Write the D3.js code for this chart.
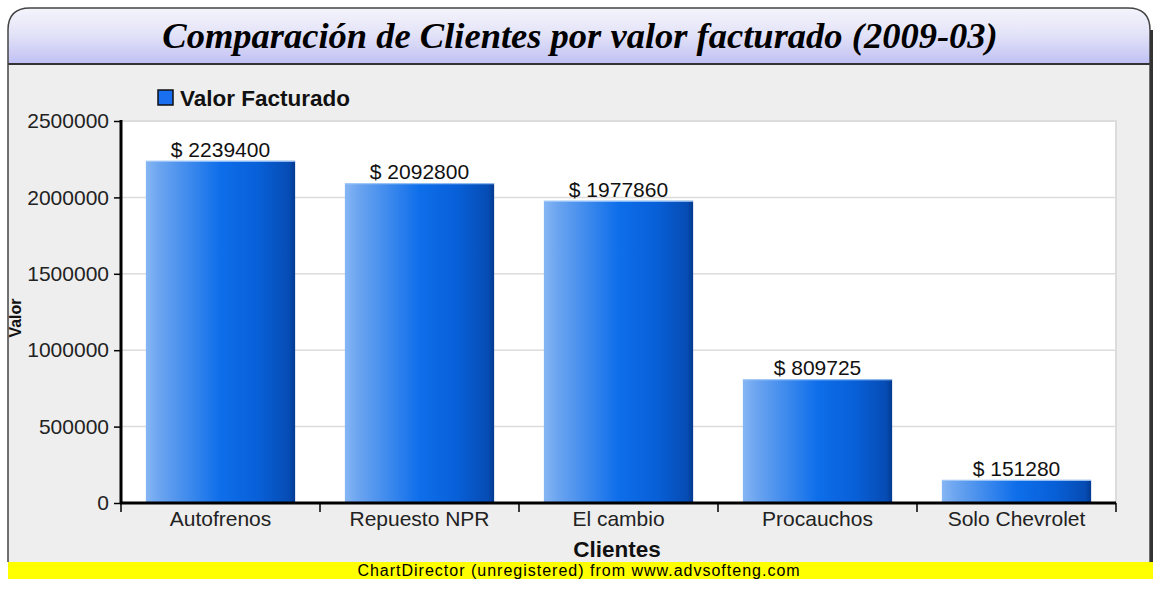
<!DOCTYPE html>
<html>
<head>
<meta charset="utf-8">
<script src="https://cdn.jsdelivr.net/npm/d3@7"></script>
<style>
  body { margin: 0; background: #fff; }
  text { font-family: "Liberation Sans", Arial, sans-serif; }
</style>
</head>
<body>
<div id="chart"></div>
<script>
// data
var clientes = ["Autofrenos", "Repuesto NPR", "El cambio", "Procauchos", "Solo Chevrolet"];
var valores = [2239400, 2092800, 1977860, 809725, 151280];
var yTicks = [0, 500000, 1000000, 1500000, 2000000, 2500000];

var W = 1153, H = 596;
var plot = { left: 121, right: 1116, top: 121, bottom: 503 };

var svg = d3.select("#chart").append("svg")
    .attr("width", W)
    .attr("height", H);

var defs = svg.append("defs");

var titleGrad = defs.append("linearGradient")
    .attr("id", "titleGrad")
    .attr("x1", 0).attr("y1", 0).attr("x2", 0).attr("y2", 1);
titleGrad.append("stop").attr("offset", "0%").attr("stop-color", "#f4f4fc");
titleGrad.append("stop").attr("offset", "45%").attr("stop-color", "#e4e4f8");
titleGrad.append("stop").attr("offset", "100%").attr("stop-color", "#c0c0f4");

var barGrad = defs.append("linearGradient")
    .attr("id", "barGrad")
    .attr("x1", 0).attr("y1", 0).attr("x2", 1).attr("y2", 0);
barGrad.append("stop").attr("offset", "0%").attr("stop-color", "#86b6f4");
barGrad.append("stop").attr("offset", "8%").attr("stop-color", "#6ea6f0");
barGrad.append("stop").attr("offset", "50%").attr("stop-color", "#0e6eea");
barGrad.append("stop").attr("offset", "75%").attr("stop-color", "#0860d8");
barGrad.append("stop").attr("offset", "96%").attr("stop-color", "#064cb4");
barGrad.append("stop").attr("offset", "100%").attr("stop-color", "#033a90");

// outer frame with rounded top corners
var fx0 = 8, fx1 = 1150, fy0 = 8, fy1 = 562, r = 22;
var framePath = "M" + fx0 + "," + fy1 + " L" + fx0 + "," + (fy0 + r) +
    " Q" + fx0 + "," + fy0 + " " + (fx0 + r) + "," + fy0 +
    " L" + (fx1 - r) + "," + fy0 +
    " Q" + fx1 + "," + fy0 + " " + fx1 + "," + (fy0 + r) +
    " L" + fx1 + "," + fy1;

svg.append("path")
    .attr("d", framePath + " Z")
    .attr("fill", "#eeeeee");

// title bar
var titlePath = "M" + fx0 + ",64 L" + fx0 + "," + (fy0 + r) +
    " Q" + fx0 + "," + fy0 + " " + (fx0 + r) + "," + fy0 +
    " L" + (fx1 - r) + "," + fy0 +
    " Q" + fx1 + "," + fy0 + " " + fx1 + "," + (fy0 + r) +
    " L" + fx1 + ",64 Z";
svg.append("path")
    .attr("d", titlePath)
    .attr("fill", "url(#titleGrad)");
svg.append("line")
    .attr("x1", fx0).attr("x2", fx1)
    .attr("y1", 64).attr("y2", 64)
    .attr("stroke", "#333")
    .attr("stroke-width", 2);

svg.append("path")
    .attr("d", framePath)
    .attr("fill", "none")
    .attr("stroke", "#444")
    .attr("stroke-width", 1.5);
// right edge shadow
svg.append("line")
    .attr("x1", fx1 + 1.5).attr("x2", fx1 + 1.5)
    .attr("y1", fy0 + r).attr("y2", fy1)
    .attr("stroke", "#333")
    .attr("stroke-width", 3);

svg.append("text")
    .attr("x", 580)
    .attr("y", 48)
    .attr("text-anchor", "middle")
    .style("font-family", "'Liberation Serif', 'Times New Roman', serif")
    .style("font-weight", "bold")
    .style("font-style", "italic")
    .style("font-size", "36.5px")
    .attr("fill", "#000")
    .text("Comparación de Clientes por valor facturado (2009-03)");

// scales
var x = d3.scaleBand()
    .domain(clientes)
    .range([plot.left, plot.right])
    .paddingInner(0.25)
    .paddingOuter(0.125);

var y = d3.scaleLinear()
    .domain([0, 2500000])
    .range([plot.bottom, plot.top]);

// plot background
svg.append("rect")
    .attr("x", plot.left)
    .attr("y", plot.top)
    .attr("width", plot.right - plot.left)
    .attr("height", plot.bottom - plot.top)
    .attr("fill", "#ffffff")
    .attr("stroke", "#dcdcdc")
    .attr("stroke-width", 2);

// grid lines
svg.append("g")
    .selectAll("line")
    .data(yTicks.slice(1))
    .enter().append("line")
    .attr("x1", plot.left)
    .attr("x2", plot.right)
    .attr("y1", function (d) { return y(d); })
    .attr("y2", function (d) { return y(d); })
    .attr("stroke", "#dcdcdc")
    .attr("stroke-width", 1.5);

// bars
var bars = svg.append("g").selectAll("g.bar")
    .data(clientes)
    .enter().append("g")
    .attr("class", "bar");

bars.append("rect")
    .attr("x", function (d) { return x(d); })
    .attr("y", function (d, i) { return y(valores[i]); })
    .attr("width", x.bandwidth())
    .attr("height", function (d, i) { return y(0) - y(valores[i]); })
    .attr("fill", "url(#barGrad)");

bars.append("line")
    .attr("x1", function (d) { return x(d); })
    .attr("x2", function (d) { return x(d) + x.bandwidth(); })
    .attr("y1", function (d, i) { return y(valores[i]) + 0.5; })
    .attr("y2", function (d, i) { return y(valores[i]) + 0.5; })
    .attr("stroke", "#a8ccf8")
    .attr("stroke-width", 1);

bars.append("text")
    .attr("x", function (d) { return x(d) + x.bandwidth() / 2; })
    .attr("y", function (d, i) { return y(valores[i]) - 4; })
    .attr("text-anchor", "middle")
    .style("font-size", "21px")
    .attr("fill", "#111")
    .text(function (d, i) { return "$ " + valores[i]; });

// y axis
var yAxis = svg.append("g")
    .attr("transform", "translate(" + plot.left + ",0)")
    .call(d3.axisLeft(y).tickValues(yTicks).tickSize(7).tickPadding(5).tickFormat(d3.format("d")));
yAxis.select(".domain").attr("stroke", "#000").attr("stroke-width", 3)
    .attr("d", "M0," + (plot.top - 1) + "V" + (plot.bottom + 1));
yAxis.selectAll(".tick line").attr("stroke", "#000").attr("stroke-width", 1.5);
yAxis.selectAll(".tick text")
    .style("font-size", "21px")
    .style("font-family", "'Liberation Sans', Arial, sans-serif")
    .attr("fill", "#222");

// x axis
var xAxis = svg.append("g")
    .attr("transform", "translate(0," + plot.bottom + ")")
    .call(d3.axisBottom(x).tickSize(0).tickPadding(8));
xAxis.select(".domain").attr("stroke", "#000").attr("stroke-width", 3)
    .attr("d", "M" + (plot.left - 1) + ",0H" + plot.right);
xAxis.selectAll(".tick text")
    .style("font-size", "21px")
    .style("font-family", "'Liberation Sans', Arial, sans-serif")
    .attr("fill", "#222");

// category boundary ticks
var bounds = clientes.map(function (d) { return x(d) - x.step() * x.paddingInner() / 2; });
bounds.push(plot.right);
bounds[0] = plot.left;
svg.append("g").selectAll("line")
    .data(bounds)
    .enter().append("line")
    .attr("x1", function (d) { return d; })
    .attr("x2", function (d) { return d; })
    .attr("y1", plot.bottom)
    .attr("y2", plot.bottom + 9)
    .attr("stroke", "#000")
    .attr("stroke-width", 1.5);

// axis titles
svg.append("text")
    .attr("x", 617)
    .attr("y", 557)
    .attr("text-anchor", "middle")
    .style("font-size", "22.5px")
    .style("font-weight", "bold")
    .attr("fill", "#111")
    .text("Clientes");

svg.append("text")
    .attr("transform", "translate(21,318) rotate(-90)")
    .attr("text-anchor", "middle")
    .style("font-size", "16px")
    .style("font-weight", "bold")
    .attr("fill", "#111")
    .text("Valor");

// legend
svg.append("rect")
    .attr("x", 158)
    .attr("y", 90)
    .attr("width", 15)
    .attr("height", 15)
    .attr("fill", "#1a6ef0")
    .attr("stroke", "#111")
    .attr("stroke-width", 1.5);
svg.append("text")
    .attr("x", 180)
    .attr("y", 106)
    .style("font-size", "22.5px")
    .style("font-weight", "bold")
    .attr("fill", "#111")
    .text("Valor Facturado");

// watermark band
svg.append("rect")
    .attr("x", 8)
    .attr("y", 562)
    .attr("width", W - 8)
    .attr("height", 17)
    .attr("fill", "#ffff00");
svg.append("text")
    .attr("x", 579)
    .attr("y", 576)
    .attr("text-anchor", "middle")
    .style("font-size", "16px")
    .style("letter-spacing", "1px")
    .attr("fill", "#000")
    .text("ChartDirector (unregistered) from www.advsofteng.com");
</script>
</body>
</html>
